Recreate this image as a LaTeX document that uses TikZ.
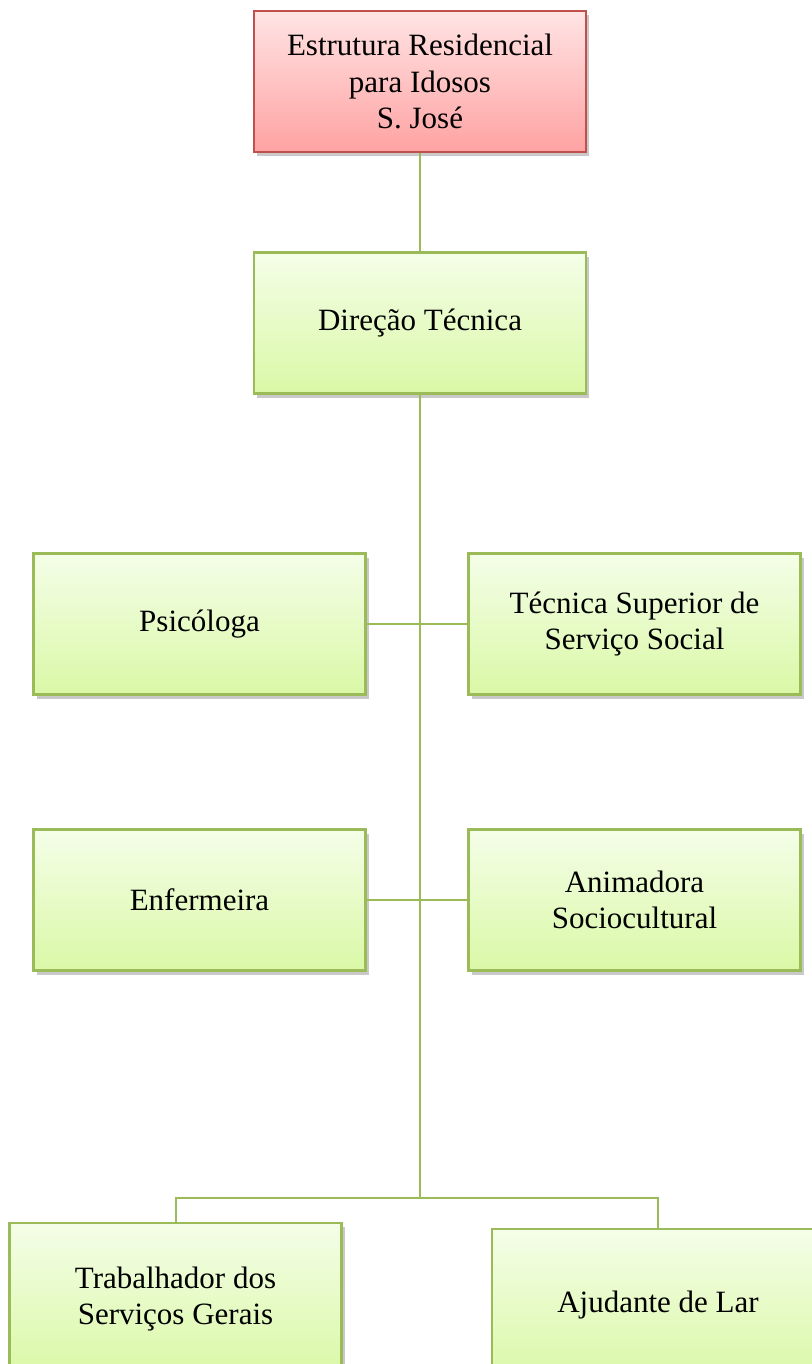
\documentclass[tikz,border=0pt]{standalone}
\usepackage{fontspec}
\setmainfont{Liberation Serif}
\usetikzlibrary{shadows}

\definecolor{leafgreen}{RGB}{155,187,89}
\definecolor{leaftop}{RGB}{244,254,232}
\definecolor{leafbot}{RGB}{218,248,166}
\definecolor{rosedraw}{RGB}{192,80,77}
\definecolor{rosetop}{RGB}{255,228,228}
\definecolor{rosebot}{RGB}{255,162,162}

\begin{document}
\begin{tikzpicture}[x=1pt,y=-1pt,
  post/.style={draw=leafgreen, line width=2.5pt, top color=leaftop, bottom color=leafbot,
    minimum width=332pt, minimum height=141pt, inner sep=0pt, align=center,
    font=\fontsize{31}{36.5}\selectfont,
    drop shadow={shadow xshift=3pt, shadow yshift=-4pt, opacity=0.3, fill=black!70}},
  head/.style={post, draw=rosedraw, top color=rosetop, bottom color=rosebot},
  base/.style={post, minimum height=152pt},
  link/.style={draw=leafgreen, line width=2pt}]
  \useasboundingbox (0,0) rectangle (811,1364);

  % boxes of the chart
  \node[head] (est) at (420,81.5) {Estrutura Residencial\\para Idosos\\S. José};
  \node[post] (dir) at (420,323) {Direção Técnica};
  \node[post] (psi) at (199.5,624) {Psicóloga};
  \node[post] (tss) at (634.5,624) {Técnica Superior de\\Serviço Social};
  \node[post] (enf) at (199.5,900) {Enfermeira};
  \node[post] (ani) at (634.5,900) {Animadora\\Sociocultural};
  \node[base] (tsg) at (175.5,1299) {Trabalhador dos\\Serviços Gerais};
  \node[base] (aju) at (658,1305) {Ajudante de Lar};

  % connectors
  \coordinate (bus) at (420,1198);
  \draw[link] (est) -- (dir);
  \draw[link] (dir) -- (bus);
  \draw[link] (psi) -- (tss);
  \draw[link] (enf) -- (ani);
  \draw[link] (tsg.north) |- (bus) -| (aju.north);
\end{tikzpicture}
\end{document}
